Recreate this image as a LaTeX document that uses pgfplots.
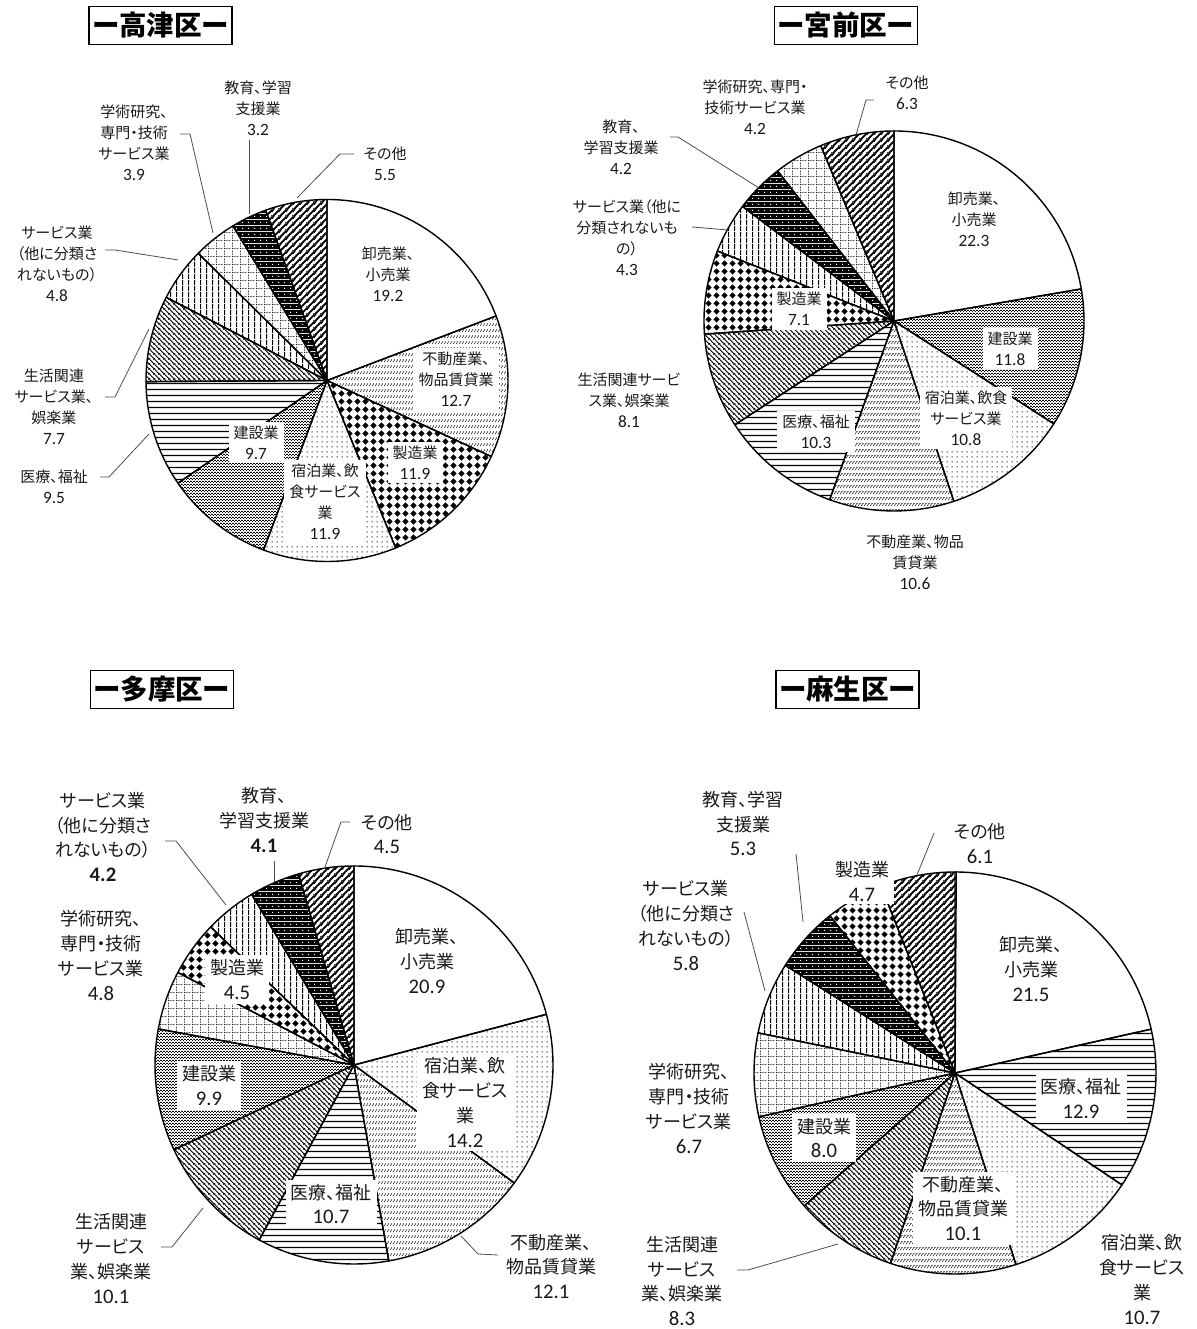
\documentclass[border=0pt]{standalone}
\usepackage{pgfplots}
\pgfplotsset{compat=1.18}
\usepackage{pgfplotstable}
\usetikzlibrary{patterns.meta}
\usepackage{fontspec}
\setmainfont{Noto Sans CJK JP}[RawFeature={+palt}]
\newfontfamily\nf{Carlito}[Scale=1.15]

% ---------- patterns ----------
\tikzdeclarepattern{name=patF, type=colored, bounding box={(0pt,0pt) and (3pt,6pt)}, tile size={(3pt,6pt)},
  code={\draw[line width=0.6pt,black] (0.4pt,1.2pt) -- (2.4pt,4.2pt);}}
\tikzdeclarepattern{name=patS, type=colored, bounding box={(0pt,0pt) and (7.5pt,7.5pt)}, tile size={(7.5pt,7.5pt)},
  code={\fill[black] (3.75pt,0.5pt) -- (7pt,3.75pt) -- (3.75pt,7pt) -- (0.5pt,3.75pt) -- cycle;}}
\tikzdeclarepattern{name=patH, type=colored, bounding box={(0pt,0pt) and (5pt,5pt)}, tile size={(5pt,5pt)},
  code={\fill[black] (2pt,2pt) rectangle (3.1pt,3.1pt);}}
\tikzdeclarepattern{name=patK, type=colored, bounding box={(0pt,0pt) and (3pt,3pt)}, tile size={(3pt,3pt)},
  code={\fill[black] (0pt,0pt) rectangle (1.3pt,1.3pt); \fill[black] (1.5pt,1.5pt) rectangle (2.8pt,2.8pt);}}
\tikzdeclarepattern{name=patI, type=colored, bounding box={(0pt,0pt) and (5.5pt,5.5pt)}, tile size={(5.5pt,5.5pt)},
  code={\fill[black] (0pt,2pt) rectangle (5.5pt,3.4pt);}}
\tikzdeclarepattern{name=patL, type=colored, bounding box={(0pt,0pt) and (5pt,5pt)}, tile size={(5pt,5pt)},
  code={\draw[line width=1pt,black] (-1pt,6pt) -- (6pt,-1pt) (-1pt,1pt) -- (1pt,-1pt) (4pt,6pt) -- (6pt,4pt);}}
\tikzdeclarepattern{name=patV, type=colored, bounding box={(0pt,0pt) and (6pt,6pt)}, tile size={(6pt,6pt)},
  code={\fill[black] (2.4pt,0pt) rectangle (3.6pt,6pt);}}
\tikzdeclarepattern{name=patG, type=colored, bounding box={(0pt,0pt) and (8pt,8pt)}, tile size={(8pt,8pt)},
  code={\draw[line width=0.7pt,black,dash pattern=on 1pt off 1pt] (0pt,0.5pt) -- (8pt,0.5pt) (0.5pt,0pt) -- (0.5pt,8pt);}}
\tikzdeclarepattern{name=patE, type=colored, bounding box={(0pt,0pt) and (6pt,6pt)}, tile size={(6pt,6pt)},
  code={\fill[black] (0pt,0pt) rectangle (6pt,6pt); \fill[white] (2.5pt,2.5pt) rectangle (3.6pt,3.6pt);}}
\tikzdeclarepattern{name=patO, type=colored, bounding box={(0pt,0pt) and (7pt,7pt)}, tile size={(7pt,7pt)},
  code={\draw[line width=2pt,black] (-1pt,-1pt) -- (8pt,8pt) (-1pt,6pt) -- (1pt,8pt) (6pt,-1pt) -- (8pt,1pt);}}

\tikzset{
  slice/.style={draw=black,line width=1.4pt,line join=round},
  pW/.style={fill=white}, pF/.style={pattern=patF}, pS/.style={pattern=patS},
  pH/.style={pattern=patH}, pK/.style={pattern=patK}, pI/.style={pattern=patI},
  pL/.style={pattern=patL}, pV/.style={pattern=patV}, pG/.style={pattern=patG},
  pE/.style={pattern=patE}, pO/.style={pattern=patO},
  ts/.style={align=center, font=\fontsize{15}{21}\selectfont, inner sep=0pt, text=black!90},
  bs/.style={align=center, font=\fontsize{18}{24.8}\selectfont, inner sep=0pt, text=black!90},
  bx/.style={fill=white, inner xsep=5pt, inner ysep=4pt},
  ld/.style={draw=black!70, line width=0.8pt},
  tt/.style={draw=black, line width=1.2pt, font=\fontsize{27.5}{30}\selectfont\bfseries,
             minimum width=143pt, minimum height=38pt, inner sep=0pt}
}

% ---------- data (percent) ----------
% W 卸売業、小売業 / F 不動産業、物品賃貸業 / S 製造業 / H 宿泊業、飲食サービス業 / K 建設業
% I 医療、福祉 / L 生活関連サービス業、娯楽業 / V サービス業（他に分類されないもの）
% G 学術研究、専門・技術サービス業 / E 教育、学習支援業 / O その他
\pgfplotstableread{
value style
19.2 pW
12.7 pF
11.9 pS
11.9 pH
9.7 pK
9.5 pI
7.7 pL
4.8 pV
3.9 pG
3.2 pE
5.5 pO
}\takatsu
\pgfplotstableread{
value style
22.3 pW
11.8 pK
10.8 pH
10.6 pF
10.3 pI
8.1 pL
7.1 pS
4.3 pV
4.2 pE
4.2 pG
6.3 pO
}\miyamae
\pgfplotstableread{
value style
20.9 pW
14.2 pH
12.1 pF
10.7 pI
10.1 pL
9.9 pK
4.8 pG
4.5 pS
4.2 pV
4.1 pE
4.5 pO
}\tama
\pgfplotstableread{
value style
21.5 pW
12.9 pI
10.7 pH
10.1 pF
8.3 pL
8.0 pK
6.7 pG
5.8 pV
5.3 pE
4.7 pS
6.1 pO
}\asao

\newcommand\buildpie[3]{%
  \gdef#3{}%
  \gdef\cumsum{0}%
  \pgfplotstableforeachcolumnelement{value}\of#1\as\v{%
    \pgfplotstablegetelem{\pgfplotstablerow}{style}\of#1%
    \let\st\pgfplotsretval
    \pgfmathsetmacro\aS{90-3.6*\cumsum}%
    \pgfmathsetmacro\cumnew{\cumsum+\v}%
    \pgfmathsetmacro\aE{90-3.6*\cumnew}%
    \pgfmathsetmacro\xS{#2*cos(\aS)}%
    \pgfmathsetmacro\yS{#2*sin(\aS)}%
    \xdef\cumsum{\cumnew}%
    \xdef#3{\unexpanded\expandafter{#3}\noexpand\draw[slice,\st] (axis cs:0,0) -- (axis cs:\xS,\yS) arc[start angle=\aS, end angle=\aE, radius=#2pt] -- cycle;}%
  }%
}

\pgfplotsset{pieaxis/.style={hide axis, x=1pt, y=1pt, xmin=-210, xmax=210, ymin=-210, ymax=210,
  anchor=center, clip=false}}

\begin{document}
\begin{tikzpicture}[x=1pt,y=1pt]
\path[use as bounding box] (0,0) rectangle (1196,1329);
\buildpie{\takatsu}{181}{\slicesA}%
\buildpie{\miyamae}{190}{\slicesB}%
\buildpie{\tama}{199}{\slicesC}%
\buildpie{\asao}{201}{\slicesD}%

\begin{axis}[pieaxis, at={(327pt,948.5pt)}]
\addplot[draw=none] coordinates {(0,0)};
\slicesA
\end{axis}
\begin{axis}[pieaxis, at={(894pt,1008pt)}]
\addplot[draw=none] coordinates {(0,0)};
\slicesB
\end{axis}
\begin{axis}[pieaxis, at={(354pt,264pt)}]
\addplot[draw=none] coordinates {(0,0)};
\slicesC
\end{axis}
\begin{axis}[pieaxis, at={(955pt,256pt)}]
\addplot[draw=none] coordinates {(0,0)};
\slicesD
\end{axis}

\begin{scope}[shift={(0pt,1329pt)}, yscale=-1]
% titles
\node[tt] at (160.5,25.5) {ー高津区ー};
\node[tt] at (846,25.5) {ー宮前区ー};
\node[tt] at (162,689.5) {ー多摩区ー};
\node[tt] at (847.5,689.5) {ー麻生区ー};

% ---- 高津区 ----
\draw[ld] (180,134) -- (190,134) -- (213,233);
\draw[ld] (249,140) -- (249,214);
\draw[ld] (354,154) -- (340,154) -- (297,198);
\draw[ld] (105,250) -- (115,250) -- (178,260);
\draw[ld] (105,397) -- (115,397) -- (149,329);
\draw[ld] (100,477) -- (109,477) -- (149,434);
\node[ts] at (258,108.5) {教育、学習\\支援業\\{\nf 3.2}};
\node[ts] at (134,143) {学術研究、\\専門・技術\\サービス業\\{\nf 3.9}};
\node[ts] at (385,164) {その他\\{\nf 5.5}};
\node[ts] at (57,263.5) {サービス業\\（他に分類さ\\れないもの）\\{\nf 4.8}};
\node[ts] at (388,274) {卸売業、\\小売業\\{\nf 19.2}};
\node[ts,bx] at (456,379) {不動産業、\\物品賃貸業\\{\nf 12.7}};
\node[ts] at (54,406.5) {生活関連\\サービス業、\\娯楽業\\{\nf 7.7}};
\node[ts,bx] at (256,442.5) {建設業\\{\nf 9.7}};
\node[ts,bx] at (415,462.5) {製造業\\{\nf 11.9}};
\node[ts] at (54,486.5) {医療、福祉\\{\nf 9.5}};
\node[ts,bx] at (325,501.5) {宿泊業、飲\\食サービス\\業\\{\nf 11.9}};

% ---- 宮前区 ----
\draw[ld] (874,100) -- (866,100) -- (856,135);
\draw[ld] (670,137) -- (678,137) -- (759,188);
\draw[ld] (692,227) -- (728,230);
\node[ts] at (907,92.5) {その他\\{\nf 6.3}};
\node[ts] at (755,107.5) {学術研究、専門・\\技術サービス業\\{\nf 4.2}};
\node[ts] at (621,147) {教育、\\学習支援業\\{\nf 4.2}};
\node[ts] at (627,237.5) {サービス業（他に\\分類されないも\\の）\\{\nf 4.3}};
\node[ts] at (974,219.5) {卸売業、\\小売業\\{\nf 22.3}};
\node[ts,bx] at (799,309) {製造業\\{\nf 7.1}};
\node[ts,bx] at (1010,348.5) {建設業\\{\nf 11.8}};
\node[ts] at (629,400) {生活関連サービ\\ス業、娯楽業\\{\nf 8.1}};
\node[ts,bx] at (966,418) {宿泊業、飲食\\サービス業\\{\nf 10.8}};
\node[ts,bx] at (816,431.5) {医療、福祉\\{\nf 10.3}};
\node[ts] at (915,562) {不動産業、物品\\賃貸業\\{\nf 10.6}};

% ---- 多摩区 ----
\draw[ld] (165,841) -- (176,841) -- (226,905);
\draw[ld] (274,861) -- (274,882);
\draw[ld] (350,822) -- (341,822) -- (325,867);
\draw[ld] (161,1247) -- (172,1247) -- (203,1208);
\draw[ld] (498,1255) -- (478,1254) -- (461,1236);
\node[bs] at (103,837) {サービス業\\（他に分類さ\\れないもの）\\{\nf\bfseries 4.2}};
\node[bs] at (264,820) {教育、\\学習支援業\\{\nf\bfseries 4.1}};
\node[bs] at (387,834) {その他\\{\nf 4.5}};
\node[bs] at (101,955.5) {学術研究、\\専門・技術\\サービス業\\{\nf 4.8}};
\node[bs] at (427,961) {卸売業、\\小売業\\{\nf 20.9}};
\node[bs,bx] at (237,979.5) {製造業\\{\nf 4.5}};
\node[bs,bx] at (209,1085.5) {建設業\\{\nf 9.9}};
\node[bs,bx] at (465,1102.5) {宿泊業、飲\\食サービス\\業\\{\nf 14.2}};
\node[bs,bx] at (331,1204) {医療、福祉\\{\nf 10.7}};
\node[bs] at (111,1258.5) {生活関連\\サービス\\業、娯楽業\\{\nf 10.1}};
\node[bs] at (551,1266.5) {不動産業、\\物品賃貸業\\{\nf 12.1}};

% ---- 麻生区 ----
\draw[ld] (796,854) -- (803,922);
\draw[ld] (934,833) -- (917,875);
\draw[ld] (744,912) -- (765,991);
\draw[ld] (737,1270) -- (748,1270) -- (838,1244);
\node[bs] at (743,823.5) {教育、学習\\支援業\\{\nf 5.3}};
\node[bs] at (980,843.5) {その他\\{\nf 6.1}};
\node[bs,bx,inner ysep=2pt] at (862,881.5) {製造業\\{\nf 4.7}};
\node[bs] at (686,925.5) {サービス業\\（他に分類さ\\れないもの）\\{\nf 5.8}};
\node[bs] at (1031,969) {卸売業、\\小売業\\{\nf 21.5}};
\node[bs] at (689,1108.5) {学術研究、\\専門・技術\\サービス業\\{\nf 6.7}};
\node[bs,bx] at (1081,1098.5) {医療、福祉\\{\nf 12.9}};
\node[bs,bx] at (824,1138) {建設業\\{\nf 8.0}};
\node[bs,bx] at (963,1208.5) {不動産業、\\物品賃貸業\\{\nf 10.1}};
\node[bs] at (682,1281) {生活関連\\サービス\\業、娯楽業\\{\nf 8.3}};
\node[bs] at (1142,1279.5) {宿泊業、飲\\食サービス\\業\\{\nf 10.7}};
\end{scope}
\end{tikzpicture}
\end{document}
